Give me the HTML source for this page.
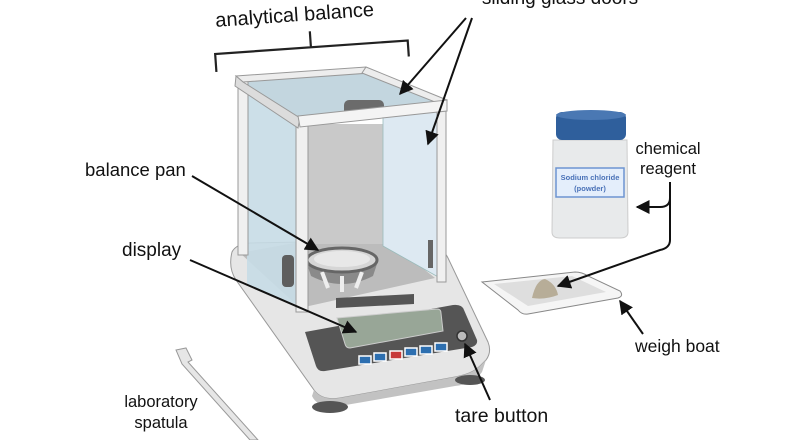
<!DOCTYPE html>
<html><head><meta charset="utf-8"><style>
html,body{margin:0;padding:0;background:#fff;}
svg{display:block;font-family:"Liberation Sans",sans-serif;}
</style></head><body>
<svg width="800" height="440" viewBox="0 0 800 440" xmlns="http://www.w3.org/2000/svg">
<defs>
<marker id="ah" viewBox="0 0 10 10" refX="9" refY="5" markerWidth="7" markerHeight="7" orient="auto"><path d="M0,0 L10,5 L0,10 z" fill="#111"/></marker>
</defs>
<!-- top labels -->
<g transform="rotate(-4 300 20)">
<text x="295" y="21" font-size="20" text-anchor="middle" fill="#111">analytical balance</text>
<path d="M213,66 L213,48 L406,48 L406,64 M309,48 L309,32" fill="none" stroke="#222" stroke-width="2.2"/>
</g>
<text x="560" y="4" font-size="19" text-anchor="middle" fill="#111">sliding glass doors</text>

<!-- spatula -->
<path d="M176,350 L186,348 L192,360 L188,362 L258,440 L250,440 L182,364 Z" fill="#e6e6e6" stroke="#999" stroke-width="1"/>

<!-- balance base -->
<path d="M232,252 Q236,244 250,243 L420,240 Q440,242 448,258 L488,342 Q492,352 486,360 L480,366 Q472,374 455,377 L340,398 Q322,401 314,390 L236,280 Q228,268 232,252 Z" fill="#e6e6e6" stroke="#999" stroke-width="1"/>
<path d="M314,390 Q322,401 340,398 L455,377 Q472,374 480,366 L486,360 L482,372 Q474,384 455,386 L340,406 Q318,409 312,396 Z" fill="#c2c2c2"/>
<ellipse cx="330" cy="407" rx="18" ry="6" fill="#555"/>
<ellipse cx="470" cy="380" rx="15" ry="5" fill="#555"/>
<!-- top surface -->
<path d="M240,253 L300,242 L390,242 L435,278 L300,308 Z" fill="#bcbcbc"/>
<!-- back wall -->
<rect x="303" y="124" width="80" height="120" fill="#c9c9c9"/>
<!-- right glass -->
<path d="M383,100 L440,103 L440,278 L383,246 Z" fill="#dde9f2" stroke="#9bb" stroke-width="0.8"/>
<!-- left glass -->
<path d="M247,82 L297,120 L297,305 L247,285 Z" fill="#c6dce6" opacity="0.9"/>
<!-- top glass -->
<path d="M240,80 L365,71 L440,104 L300,120 Z" fill="#c3d6df"/>
<rect x="344" y="100" width="40" height="16" rx="5" fill="#6b6b6b"/>
<!-- pan -->
<path d="M307,264 L377,264 L373,276 Q342,292 311,276 Z" fill="#8a8a8a"/>
<path d="M322,272 L328,288 M342,276 L342,292 M362,272 L356,288" stroke="#eee" stroke-width="4"/>
<ellipse cx="342" cy="260" rx="35" ry="12" fill="#d6d6d6" stroke="#666" stroke-width="3"/>
<ellipse cx="342" cy="259" rx="28" ry="8" fill="#e8e8e8"/>
<rect x="282" y="255" width="12" height="32" rx="4" fill="#5e5e5e"/>
<rect x="428" y="240" width="5" height="28" fill="#666"/>
<!-- front panel -->
<path d="M336,298 L414,294 L414,304 L336,308 Z" fill="#555"/>
<path d="M305,332 L453,305 Q462,304 464,310 L477,340 Q478,345 472,347 L325,371 Q318,372 316,366 Z" fill="#555"/>
<path d="M337,318 L437,309 Q441,309 441,313 L443,331 L350,348 Q346,348 345,344 Z" fill="#98a697" stroke="#ccc" stroke-width="1"/>
<g stroke="#fff" stroke-width="1.5">
<rect x="359" y="356" width="12" height="8" fill="#2d6fb0"/>
<rect x="374" y="353" width="12" height="8" fill="#2d6fb0"/>
<rect x="390" y="351" width="12" height="8" fill="#c73a3a"/>
<rect x="405" y="348" width="12" height="8" fill="#2d6fb0"/>
<rect x="420" y="346" width="12" height="8" fill="#2d6fb0"/>
<rect x="435" y="343" width="12" height="8" fill="#2d6fb0"/>
</g>
<circle cx="462" cy="336" r="5" fill="#bbb" stroke="#333" stroke-width="1.5"/>
<!-- frame posts -->
<rect x="238" y="80" width="10" height="175" fill="#f0f0f0" stroke="#999" stroke-width="1"/>
<rect x="296" y="122" width="12" height="190" fill="#f0f0f0" stroke="#999" stroke-width="1"/>
<rect x="437" y="104" width="9" height="178" fill="#f0f0f0" stroke="#999" stroke-width="1"/>
<!-- frame top bars -->
<path d="M236,76 L366,67 L370,73 L243,82 Z" fill="#ededed" stroke="#999" stroke-width="1"/>
<path d="M366,67 L447,100 L440,104 L362,73 Z" fill="#ededed" stroke="#999" stroke-width="1"/>
<path d="M236,76 L243,82 L300,118 L298,128 L235,86 Z" fill="#dcdcdc" stroke="#999" stroke-width="1"/>
<path d="M298,116 L447,100 L447,111 L300,127 Z" fill="#f4f4f4" stroke="#999" stroke-width="1"/>

<!-- jar -->
<path d="M553,140 L627,140 L628,232 Q628,238 620,238 L560,238 Q552,238 552,232 Z" fill="#e8eaeb" stroke="#ccc"/>
<rect x="556" y="112" width="70" height="28" rx="6" fill="#2f5f9c"/>
<ellipse cx="591" cy="115" rx="35" ry="5" fill="#4a78b3"/>
<rect x="556" y="168" width="68" height="29" fill="#e4eefb" stroke="#6d94d1" stroke-width="1.5"/>
<text x="590" y="180" font-size="7.5" font-weight="bold" text-anchor="middle" fill="#4a72b8">Sodium chloride</text>
<text x="590" y="191" font-size="7.5" font-weight="bold" text-anchor="middle" fill="#4a72b8">(powder)</text>
<!-- weigh boat -->
<path d="M482,282 L575,272 Q582,272 588,276 L620,291 Q624,296 618,298 L528,314 Q522,315 518,310 Z" fill="#f5f5f5" stroke="#888" stroke-width="1"/>
<path d="M494,284 L572,276 L606,292 L528,306 Z" fill="#dedede"/>
<path d="M532,298 Q536,280 545,279 Q556,284 558,295 Q545,300 532,298 Z" fill="#b7ad98"/>

<!-- labels -->
<g fill="#111">
<text x="85" y="176" font-size="18.5">balance pan</text>
<text x="122" y="256" font-size="19">display</text>
<text x="668" y="154" text-anchor="middle" font-size="16.5">chemical</text>
<text x="668" y="174" text-anchor="middle" font-size="16.5">reagent</text>
<text x="635" y="352" font-size="17.5">weigh boat</text>
<text x="455" y="422" font-size="19.5">tare button</text>
<text x="161" y="407" text-anchor="middle" font-size="16.5">laboratory</text>
<text x="161" y="428" text-anchor="middle" font-size="16.5">spatula</text>
</g>
<g stroke="#111" stroke-width="2" fill="none">
<line x1="466" y1="18" x2="400" y2="94" marker-end="url(#ah)"/>
<line x1="472" y1="18" x2="428" y2="144" marker-end="url(#ah)"/>
<line x1="192" y1="176" x2="318" y2="250" marker-end="url(#ah)"/>
<line x1="190" y1="260" x2="356" y2="332" marker-end="url(#ah)"/>
<path d="M670,182 L670,198 Q670,207 660,207 L637,207" marker-end="url(#ah)"/>
<path d="M670,182 L670,240 Q670,248 660,250 L558,286" marker-end="url(#ah)"/>
<line x1="643" y1="334" x2="620" y2="301" marker-end="url(#ah)"/>
<line x1="490" y1="400" x2="465" y2="344" marker-end="url(#ah)"/>
</g>
</svg>
</body></html>
